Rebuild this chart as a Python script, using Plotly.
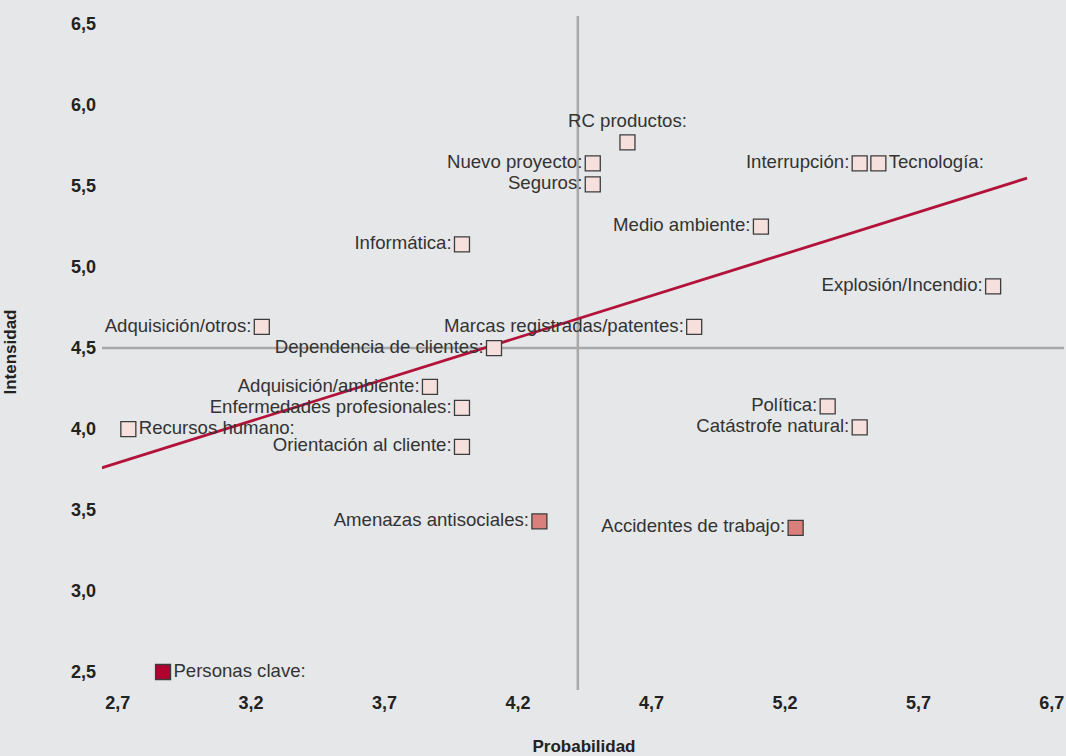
import plotly.graph_objects as go

# ---- data ----
names = ["Personas clave:", "Recursos humano:", "Adquisición/otros:", "Informática:",
         "Dependencia de clientes:", "Adquisición/ambiente:", "Enfermedades profesionales:",
         "Orientación al cliente:", "Amenazas antisociales:", "Nuevo proyecto:", "Seguros:",
         "RC productos:", "Medio ambiente:", "Marcas registradas/patentes:", "Interrupción:",
         "Tecnología:", "Explosión/Incendio:", "Política:", "Catástrofe natural:",
         "Accidentes de trabajo:"]
probabilidad = [2.87, 2.74, 3.24, 3.99, 4.11, 3.87, 3.99, 3.99, 4.28, 4.48, 4.48,
                4.61, 5.11, 4.86, 5.48, 5.55, 5.98, 5.36, 5.48, 5.24]
intensidad = [2.50, 4.00, 4.63, 5.14, 4.50, 4.26, 4.13, 3.89, 3.43, 5.64, 5.51,
              5.77, 5.25, 4.63, 5.64, 5.64, 4.88, 4.14, 4.01, 3.39]
nivel = ["alto", "bajo", "bajo", "bajo", "bajo", "bajo", "bajo", "bajo", "medio", "bajo", "bajo",
         "bajo", "bajo", "bajo", "bajo", "bajo", "bajo", "bajo", "bajo", "medio"]
label_pos = ["middle right", "middle right", "middle left", "middle left", "middle left",
             "middle left", "middle left", "middle left", "middle left", "middle left",
             "middle left", "top center", "middle left", "middle left", "middle left",
             "middle right", "middle left", "middle left", "middle left", "middle left"]

trend_x = [2.614, 6.107]
trend_y = [3.747, 5.549]

mean_prob = 4.424
mean_int = 4.5

x_ticks = [2.7, 3.2, 3.7, 4.2, 4.7, 5.2, 5.7, 6.2]
x_ticktext = ["2,7", "3,2", "3,7", "4,2", "4,7", "5,2", "5,7", "6,7"]
y_ticks = [2.5, 3.0, 3.5, 4.0, 4.5, 5.0, 5.5, 6.0, 6.5]
y_ticktext = ["2,5", "3,0", "3,5", "4,0", "4,5", "5,0", "5,5", "6,0", "6,5"]

fill_colors = {"bajo": "#f6e0de", "medio": "#d9807d", "alto": "#b2002f"}

BG = "#e6e7e9"
FONT = "Liberation Sans, Arial, sans-serif"

fig = go.Figure()

fig.add_trace(go.Scatter(
    x=trend_x, y=trend_y, mode="lines",
    line=dict(color="#b3123b", width=2.8),
    hoverinfo="skip", showlegend=False))

fig.add_trace(go.Scatter(
    x=probabilidad, y=intensidad, mode="markers+text",
    text=names, textposition=label_pos,
    textfont=dict(family=FONT, size=18.6, color="#333333"),
    marker=dict(symbol="square", size=15,
                color=[fill_colors[n] for n in nivel],
                line=dict(color="#3c3c3c", width=1.3)),
    cliponaxis=False, showlegend=False))

fig.add_shape(type="line", xref="x", yref="paper", x0=mean_prob, x1=mean_prob,
              y0=0, y1=0.997, line=dict(color="#a9a9a9", width=2.5), layer="below")
fig.add_shape(type="line", xref="paper", yref="y", x0=0, x1=0.998,
              y0=mean_int, y1=mean_int, line=dict(color="#a9a9a9", width=2.5), layer="below")

fig.update_layout(
    width=1066, height=756,
    margin=dict(l=102, r=0, t=14, b=66),
    paper_bgcolor=BG, plot_bgcolor=BG,
    font=dict(family=FONT, color="#222222"),
    xaxis=dict(range=[2.6413, 6.253], tickvals=x_ticks, ticktext=x_ticktext,
               showgrid=False, zeroline=False, showline=False, ticks="",
               tickfont=dict(family=FONT, size=18, color="#222222", weight="bold"),
               title=dict(text="<b>Probabilidad</b>", standoff=30,
                          font=dict(family=FONT, size=17, color="#222222"))),
    yaxis=dict(range=[2.389, 6.562], tickvals=y_ticks, ticktext=y_ticktext,
               showgrid=False, zeroline=False, showline=False, ticks="",
               ticklabelstandoff=5,
               tickfont=dict(family=FONT, size=18, color="#222222", weight="bold"),
               title=dict(text="<b>Intensidad</b>", standoff=50,
                          font=dict(family=FONT, size=17, color="#222222"))),
)

fig.write_html("out.html",
               config={"displayModeBar": False},
               post_script="document.body.style.margin='0';document.body.style.padding='0';"
                           "document.body.style.overflow='hidden';")
